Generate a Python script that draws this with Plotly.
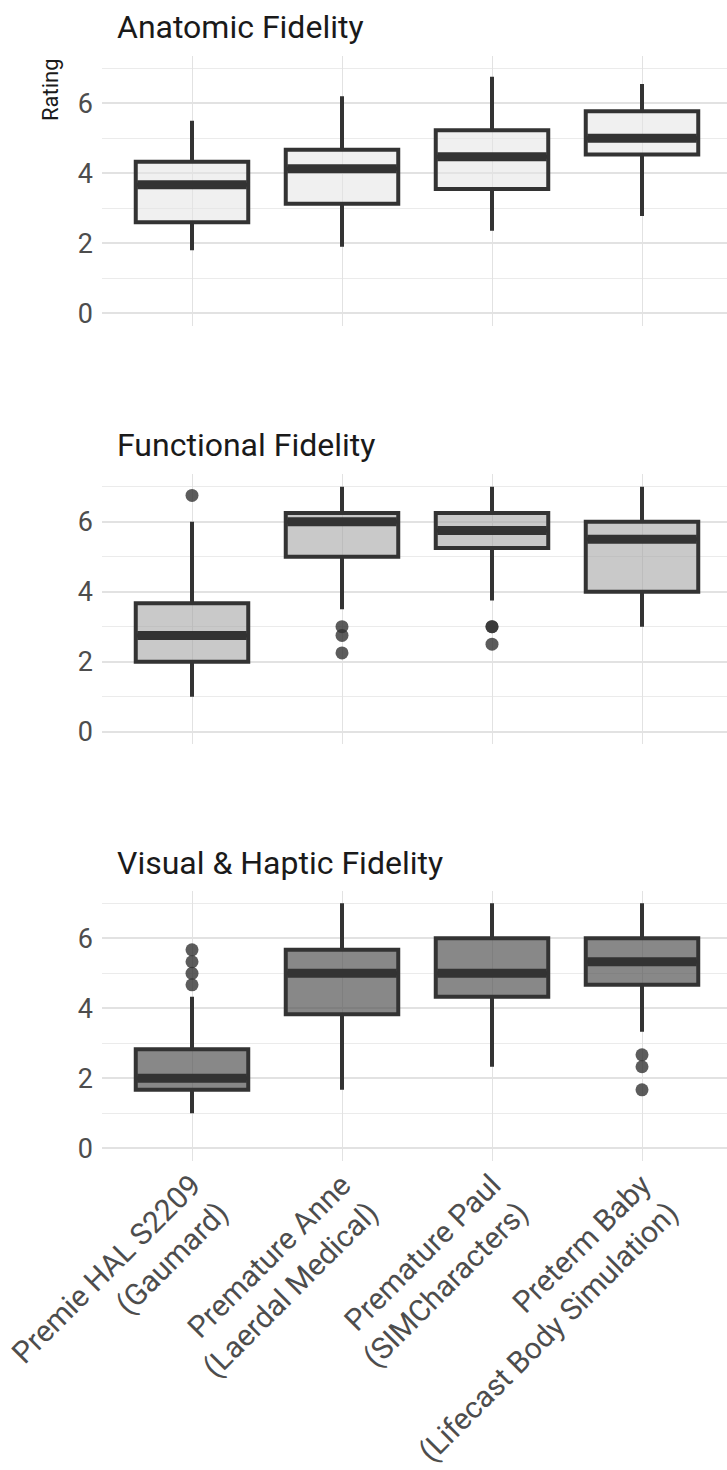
import plotly.graph_objects as go

# Simulator models (x categories)
models = [
    "Premie HAL S2209<br>(Gaumard)",
    "Premature Anne<br>(Laerdal Medical)",
    "Premature Paul<br>(SIMCharacters)",
    "Preterm Baby<br>(Lifecast Body Simulation)",
]
positions = [0, 1, 2, 3]

panel_titles = ["Anatomic Fidelity", "Functional Fidelity", "Visual & Haptic Fidelity"]

# Anatomic fidelity ratings (five-number summaries)
anat_low = [1.8, 1.9, 2.36, 2.78]
anat_q1 = [2.6, 3.13, 3.55, 4.54]
anat_med = [3.67, 4.13, 4.47, 5.0]
anat_q3 = [4.33, 4.67, 5.23, 5.77]
anat_high = [5.5, 6.2, 6.76, 6.55]
anat_out = [[], [], [], []]

# Functional fidelity ratings
func_low = [1.0, 3.5, 3.75, 3.0]
func_q1 = [2.0, 5.0, 5.25, 4.0]
func_med = [2.75, 6.0, 5.75, 5.5]
func_q3 = [3.67, 6.25, 6.25, 6.0]
func_high = [6.0, 7.0, 7.0, 7.0]
func_out = [[6.75], [3.0, 2.75, 2.25], [3.0, 3.0, 2.5], []]

# Visual & haptic fidelity ratings
vis_low = [1.0, 1.67, 2.33, 3.33]
vis_q1 = [1.67, 3.83, 4.33, 4.67]
vis_med = [2.0, 5.0, 5.0, 5.33]
vis_q3 = [2.83, 5.67, 6.0, 6.0]
vis_high = [4.33, 7.0, 7.0, 7.0]
vis_out = [[5.67, 5.33, 5.0, 4.67], [], [], [2.67, 2.33, 1.67]]

y_ticks = [0, 2, 4, 6]
y_minor = [1, 3, 5, 7]

panels = [
    (anat_low, anat_q1, anat_med, anat_q3, anat_high, anat_out, "rgba(228,228,228,0.55)"),
    (func_low, func_q1, func_med, func_q3, func_high, func_out, "rgba(165,165,165,0.6)"),
    (vis_low, vis_q1, vis_med, vis_q3, vis_high, vis_out, "rgba(85,85,85,0.7)"),
]

W, H = 727, 1470
plot_left = 102
# vertical pixel extents of each panel (top, bottom)
panel_px = [(56, 325.6), (474.4, 744.0), (891.0, 1160.6)]
title_px = [27.5, 445.5, 862.5]

box_w = 0.75
edge = "#333333"
font = "Roboto, Arial, sans-serif"

fig = go.Figure()

for i, (lo, q1, med, q3, hi, outs, fill) in enumerate(panels):
    n = "" if i == 0 else str(i + 1)
    xa, ya = "x" + n, "y" + n
    fig.add_trace(go.Box(
        x=positions, q1=q1, median=med, q3=q3,
        lowerfence=lo, upperfence=hi,
        width=box_w, whiskerwidth=0,
        fillcolor=fill, line=dict(color=edge, width=4),
        boxpoints=False, xaxis=xa, yaxis=ya, showlegend=False,
        hoverinfo="skip",
    ))
    # thicker median bars
    mx, my = [], []
    for p, m in zip(positions, med):
        mx += [p - box_w / 2 + 0.01, p + box_w / 2 - 0.01, None]
        my += [m, m, None]
    fig.add_trace(go.Scatter(
        x=mx, y=my, mode="lines", line=dict(color=edge, width=9),
        xaxis=xa, yaxis=ya, showlegend=False, hoverinfo="skip",
    ))
    # outliers
    ox, oy = [], []
    for p, vals in zip(positions, outs):
        ox += [p] * len(vals)
        oy += vals
    if ox:
        fig.add_trace(go.Scatter(
            x=ox, y=oy, mode="markers",
            marker=dict(color="rgba(51,51,51,0.8)", size=13, line=dict(width=0)),
            xaxis=xa, yaxis=ya, showlegend=False, hoverinfo="skip",
        ))

layout = dict(
    width=W, height=H,
    margin=dict(l=0, r=0, t=0, b=0),
    paper_bgcolor="white", plot_bgcolor="white",
    showlegend=False,
    annotations=[],
)

for i in range(3):
    n = "" if i == 0 else str(i + 1)
    top, bot = panel_px[i]
    layout["xaxis" + n] = dict(
        domain=[plot_left / W, 1], anchor="y" + n,
        range=[-0.6, -0.6 + (W - plot_left) / 150.0],
        tickvals=positions, ticktext=models,
        showticklabels=(i == 2), tickangle=-45,
        ticklabeloverflow="allow",
        tickfont=dict(family=font, size=30, color="#4d4d4d"),
        showgrid=True, gridcolor="#e2e2e2", gridwidth=1,
        zeroline=False, showline=False, ticks="", automargin=False,
    )
    layout["yaxis" + n] = dict(
        domain=[1 - bot / H, 1 - top / H], anchor="x" + n,
        range=[-0.35, 7.35], tickvals=y_ticks,
        tickfont=dict(family=font, size=27, color="#4d4d4d"),
        showgrid=True, gridcolor="#e2e2e2", gridwidth=1.5,
        minor=dict(tickvals=y_minor, showgrid=True, gridcolor="#ebebeb", gridwidth=1),
        zeroline=False, showline=False, ticks="", ticklabelstandoff=8,
        automargin=False,
    )
    layout["annotations"].append(dict(
        text=panel_titles[i], xref="paper", yref="paper",
        x=115 / W, y=1 - title_px[i] / H, xanchor="left", yanchor="middle",
        showarrow=False, font=dict(family=font, size=32, color="#1a1a1a"),
    ))

layout["annotations"].append(dict(
    text="Rating", xref="paper", yref="paper",
    x=51 / W, y=1 - 90 / H, xanchor="center", yanchor="middle",
    textangle=-90, showarrow=False,
    font=dict(family=font, size=22, color="#1a1a1a"),
))

fig.update_layout(**layout)
fig.write_html("out.html")
